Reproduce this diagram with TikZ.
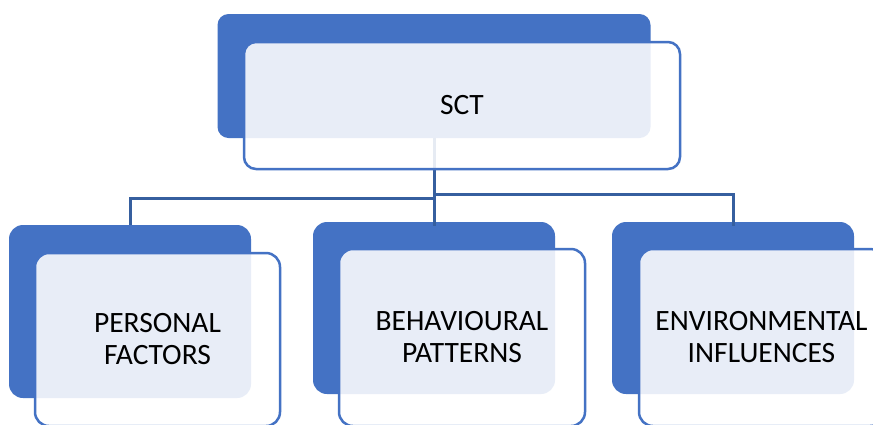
\documentclass[tikz,border=0pt]{standalone}
\usepackage{fontspec}
\setmainfont{Carlito}
\definecolor{boxblue}{HTML}{4472C4}
\definecolor{linkblue}{HTML}{365F9F}
\begin{document}
\begin{tikzpicture}[x=1pt,y=-1pt,
  darkbox/.style={fill=boxblue, draw=none, rounded corners=14pt, inner sep=0pt},
  lightbox/.style={draw=boxblue, line width=2.5pt, fill=white, fill opacity=0.88, text opacity=1,
    rounded corners=14pt, inner sep=0pt, align=center, text=black,
    font=\fontsize{29.5}{32}\selectfont},
  conn/.style={draw=linkblue, line width=3pt}]
\clip (0,0) rectangle (873,424);
\fill[white] (0,0) rectangle (873,424);
% dark back boxes
\node[darkbox, rounded corners=11pt, minimum width=433pt, minimum height=124pt] (topdark) at (434,76) {};
\node[darkbox, minimum width=242pt, minimum height=173pt] (pdark) at (130,311.5) {};
\node[darkbox, minimum width=242pt, minimum height=172pt] (bdark) at (434,308) {};
\node[darkbox, minimum width=242pt, minimum height=172pt] (edark) at (733,308) {};
% connectors
\coordinate (jl) at (434,198);
\coordinate (jr) at (434,194);
\draw[conn] (topdark.south) -- (jl) -| (pdark.north);
\draw[conn] (topdark.south) -- ([yshift=-4pt]bdark.north);
\draw[conn] (jr) -| ([yshift=-4pt]edark.north);
% light front boxes
\node[lightbox, rounded corners=12pt, minimum width=436pt, minimum height=127pt] (sct) at (462,105.5) {SCT};
\node[lightbox, minimum width=245pt, minimum height=173pt] (pf) at (157.5,339.5) {PERSONAL\\FACTORS};
\node[lightbox, minimum width=246pt, minimum height=177pt] (bp) at (462,337.5) {BEHAVIOURAL\\PATTERNS};
\node[lightbox, minimum width=245pt, minimum height=177pt] (ei) at (761.5,337.5) {ENVIRONMENTAL\\INFLUENCES};
\end{tikzpicture}
\end{document}
